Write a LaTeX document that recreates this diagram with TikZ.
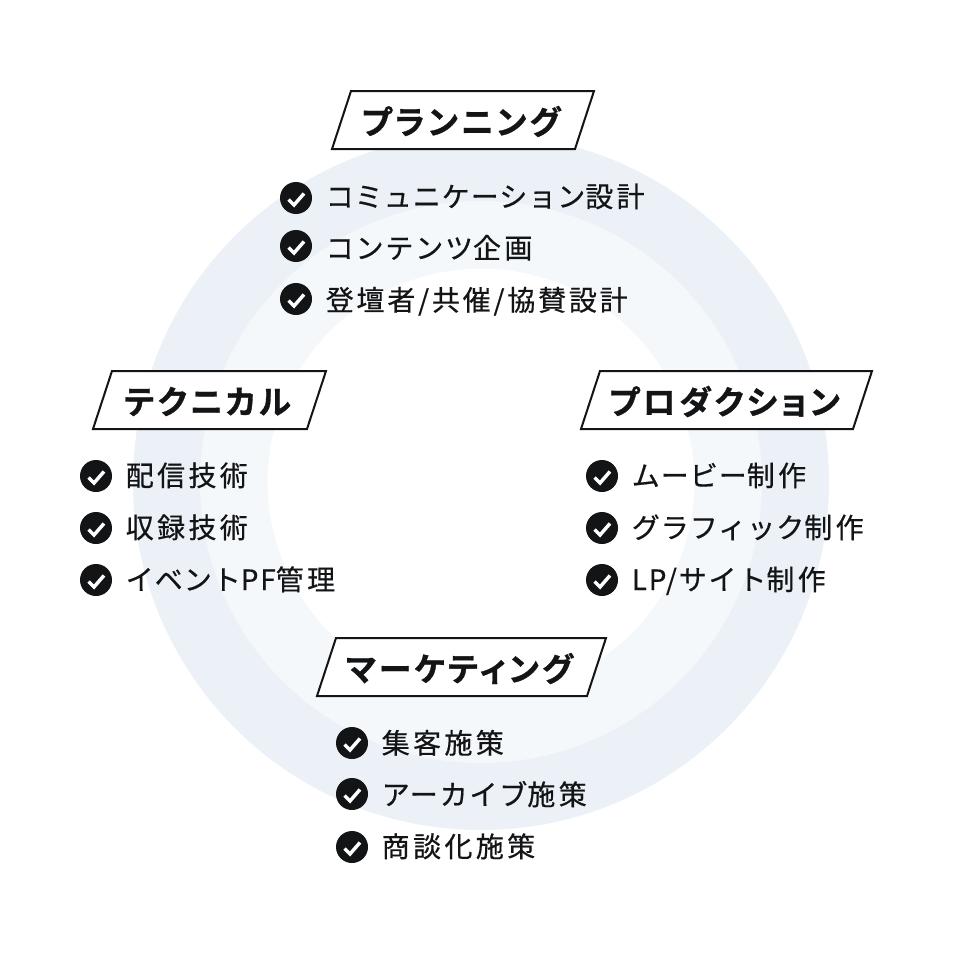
\documentclass[tikz,border=0pt]{standalone}
\usepackage{fontspec}
\usetikzlibrary{calc}
\newfontfamily\itemfont[LetterSpace=3.6,FakeBold=0.5]{Noto Sans CJK JP}
\newfontfamily\midfont[LetterSpace=6.5,FakeBold=0.5]{Noto Sans CJK JP}
\newfontfamily\kanjifont[LetterSpace=12,FakeBold=0.5]{Noto Sans CJK JP}
\newfontfamily\slashfont[LetterSpace=10,FakeBold=0.5]{Noto Sans CJK JP}
\newcommand{\kj}[1]{{\kanjifont\fontsize{21}{24}\selectfont #1}}
\newcommand{\md}[1]{{\midfont\fontsize{21}{24}\selectfont #1}}
\newcommand{\slrow}[1]{{\slashfont\fontsize{21}{24}\selectfont #1}}
\newfontfamily\titlefont[LetterSpace=10,FakeBold=1,RawFeature={+palt}]{Noto Sans CJK JP Bold}
\definecolor{ringA}{HTML}{ECF1F7}
\definecolor{ringB}{HTML}{F5F8FB}
\definecolor{ink}{HTML}{131416}
\tikzset{
  itemtext/.style={anchor=base west,inner sep=0pt,text=ink,font=\itemfont\fontsize{21}{24}\selectfont},
  titletext/.style={anchor=center,inner sep=0pt,text=ink,font=\titlefont\fontsize{24.5}{28}\selectfont},
  tagframe/.style={draw=ink,line width=1.5,fill=white,line join=miter},
  tickdisc/.style={circle,fill=ink,minimum size=24,inner sep=0pt},
  tickmark/.style={draw=white,line width=2.6,line cap=butt,line join=miter}
}
\newcommand{\tagbox}[6]{% name, xBL, xBR, yBottom, skew, text
  \draw[tagframe] (#2,#4) -- (#2+#5,#4-58) -- (#3+#5,#4-58) -- (#3,#4) -- cycle;
  \node[titletext] (#1) at ({(#2+#3+#5)/2-2},#4-27.5) {#6};
}
\newcommand{\tickitem}[5]{% name, x, y, text baseline, text
  \node[tickdisc] (#1) at (#2,#3) {};
  \draw[tickmark] ($(#1)+(-7.5,1.5)$) -- ($(#1)+(-2,7)$) -- ($(#1)+(8,-4.5)$);
  \node[itemtext] (#1t) at (#2+29.5,#4) {#5};
}
\begin{document}
\begin{tikzpicture}[x=0.75pt,y=-0.75pt]
\useasboundingbox (0,0) rectangle (960,960);
\fill[white] (0,0) rectangle (960,960);
\node[circle,fill=ringA,minimum size=522,inner sep=0pt] (ringouter) at (481,482) {};
\node[circle,fill=ringB,minimum size=421.5,inner sep=0pt] (ringmid) at (481,482) {};
\node[circle,fill=white,minimum size=320,inner sep=0pt] (ringinner) at (481,482) {};
\tagbox{plan}{332}{575}{149}{19}{プランニング}
\tagbox{tech}{93}{307}{429}{19}{テクニカル}
\tagbox{prod}{581}{853}{429}{19}{プロダクション}
\tagbox{mark}{317}{587}{696}{19}{マーケティング}
\tickitem{a1}{296}{198}{207}{コミュニケーション\kj{設計}}
\tickitem{a2}{296}{246}{258.5}{\md{コンテンツ}\kj{企画}}
\tickitem{a3}{296}{299}{310.5}{\slrow{登壇者/共催/協賛設計}}
\tickitem{b1}{96}{476}{486}{\kj{配信技術}}
\tickitem{b2}{96}{528}{538}{\kj{収録技術}}
\tickitem{b3}{96}{580}{590}{イベント\md{PF}\kj{管理}}
\tickitem{c1}{602}{476}{486}{ムービー\kj{制作}}
\tickitem{c2}{602}{528}{538}{グラフィック\kj{制作}}
\tickitem{c3}{602}{580}{590}{\md{LP/サイト}\kj{制作}}
\tickitem{d1}{352}{743}{753.5}{\kj{集客施策}}
\tickitem{d2}{352}{794}{805}{\md{アーカイブ}\kj{施策}}
\tickitem{d3}{352}{847}{857}{\kj{商談化施策}}
\end{tikzpicture}
\end{document}
